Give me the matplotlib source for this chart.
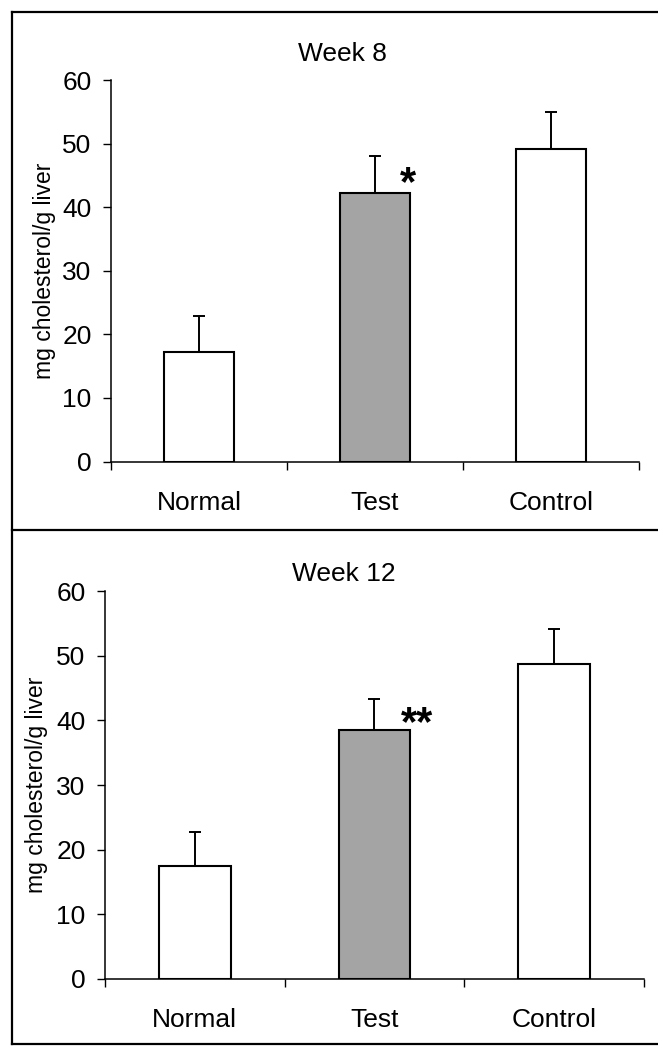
# cholesterol bar charts, week 8 / week 12

import matplotlib
matplotlib.use("Agg")
from matplotlib import pyplot as plt
from matplotlib.lines import Line2D

plt.rcParams['font.family'] = ['Liberation Sans', 'DejaVu Sans']

groups = ['Normal', 'Test', 'Control']
week8_mean = [17.3, 42.2, 49.1]
week8_err = [5.6, 5.8, 5.9]
week12_mean = [17.4, 38.6, 48.7]
week12_err = [5.4, 4.7, 5.5]
bar_colors = ['white', '#a4a4a4', 'white']

W, H = 658, 1047
fig = plt.figure(figsize=(W / 100, H / 100), dpi=100)


def fx(px):
    return px / W


def fy(py):
    return 1 - py / H


# panel frames (scanned figure, right side is cut off)
for x0, y0, x1, y1 in [(12, 12, 660, 12), (12, 12, 12, 1044),
                       (12, 530, 660, 530), (12, 1044, 660, 1044)]:
    fig.add_artist(Line2D([fx(x0), fx(x1)], [fy(y0), fy(y1)],
                          color='black', lw=1.6, transform=fig.transFigure))


def panel(rect, means, errs, title, title_xy, star, star_xy):
    ax = fig.add_axes(rect)
    x = range(len(groups))
    ax.bar(x, means, width=0.4, color=bar_colors, edgecolor='black',
           linewidth=1.5, zorder=2)
    ax.errorbar(x, means, yerr=[[0] * len(errs), errs], fmt='none',
                ecolor='black', elinewidth=1.4, capsize=4.5, capthick=1.4,
                zorder=1)
    ax.set_xlim(-0.5, 2.5)
    ax.set_ylim(0, 60)
    ax.set_yticks(range(0, 61, 10))
    ax.set_xticks([-0.5, 0.5, 1.5, 2.5])
    ax.set_xticklabels([])
    ax.set_xticks(list(x), minor=True)
    ax.set_xticklabels(groups, minor=True)
    ax.tick_params(axis='x', which='minor', length=0, pad=21, labelsize=19)
    ax.tick_params(axis='x', which='major', length=6, width=1, direction='out')
    ax.tick_params(axis='y', length=6, width=1, pad=8, labelsize=19)
    for s in ['top', 'right']:
        ax.spines[s].set_visible(False)
    for s in ['left', 'bottom']:
        ax.spines[s].set_linewidth(1.1)
    ax.set_ylabel('mg cholesterol/g liver', fontsize=16.5)
    ax.yaxis.set_label_coords(-0.105, 0.5)
    fig.text(fx(title_xy[0]), fy(title_xy[1]), title, fontsize=19,
             ha='center', va='center')
    ax.text(star_xy[0], star_xy[1], star, fontsize=30, fontweight='bold',
            ha='center', va='center')
    return ax


panel([fx(111), fy(461.5), fx(639) - fx(111), fy(80) - fy(461.5)],
      week8_mean, week8_err, 'Week 8', (342, 54), '*', (1.19, 43.7))
panel([fx(105), fy(978.8), fx(644) - fx(105), fy(591.3) - fy(978.8)],
      week12_mean, week12_err, 'Week 12', (344, 574), '**', (1.236, 39.5))

fig.savefig('out.png', dpi=100)
